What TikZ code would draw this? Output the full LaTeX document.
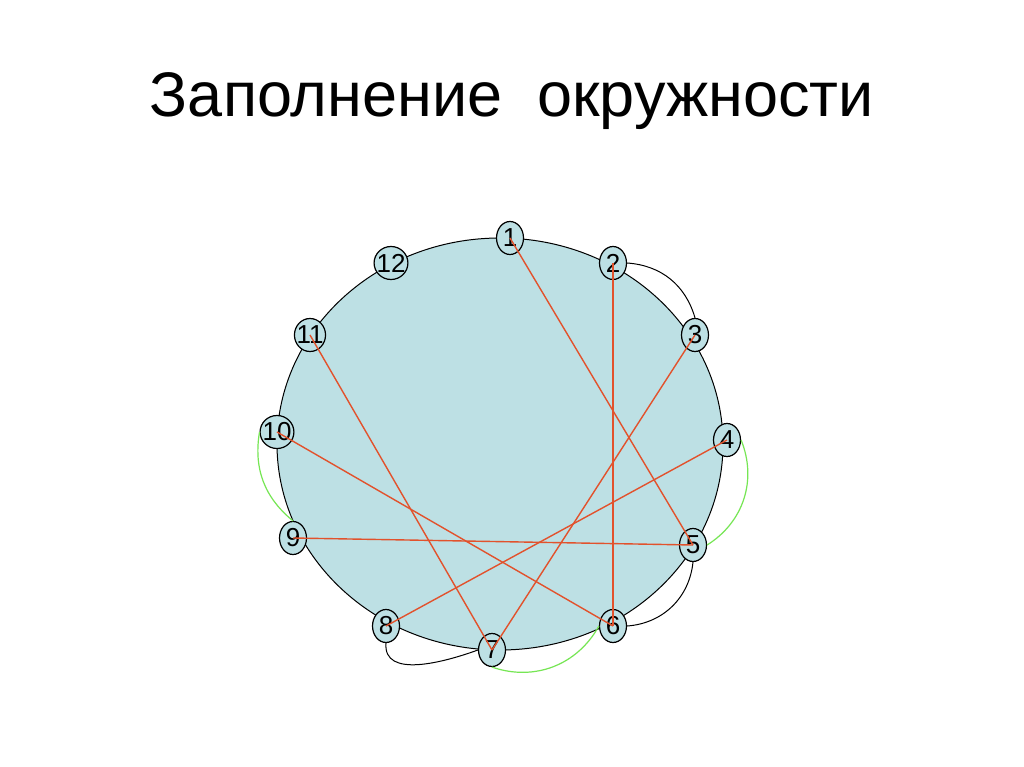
\documentclass[tikz,border=0pt]{standalone}
\usepackage{fontspec}
\setmainfont{Liberation Sans}
\usepackage{xcolor}
\usetikzlibrary{shapes.geometric}
\definecolor{disk}{RGB}{189,224,228}
\definecolor{chord}{RGB}{226,82,44}
\definecolor{lgreen}{RGB}{118,230,84}

\begin{document}
\begin{tikzpicture}[x=1pt,y=-1pt,
  pt/.style={ellipse,draw,line width=1.2pt,fill=disk,minimum width=27pt,minimum height=33pt,inner xsep=-2.5pt,inner ysep=0pt,font=\fontsize{26}{26}\selectfont},
  chd/.style={draw=chord,line width=1.4pt},
  blk/.style={draw=black,line width=1pt},
  grn/.style={draw=lgreen,line width=1.2pt}]
\path[use as bounding box,fill=white] (0,0) rectangle (1024,767);
\node[anchor=base,font=\fontsize{63}{65}\selectfont] (title) at (512,117) {Заполнение\ \ окружности};

\draw[black,line width=1pt,fill=disk] (500,444) ellipse [x radius=223,y radius=206];

\node[pt] (n1) at (510,238) {1};
\node[pt] (n2) at (613,263) {2};
\node[pt] (n3) at (695,335) {3};
\node[pt] (n4) at (727,440) {4};
\node[pt] (n5) at (693,545) {5};
\node[pt] (n6) at (613,626) {6};
\node[pt] (n7) at (492,650) {7};
\node[pt] (n8) at (386,626) {8};
\node[pt] (n9) at (293,538) {9};
\node[pt] (n10) at (277,432) {10};
\node[pt] (n11) at (310,335) {11};
\node[pt] (n12) at (391,263) {12};

\path[chd] (n1.center) edge (n5.center);
\path[chd] (n2.center) edge (n6.center);
\path[chd] (n3.center) edge (n7.center);
\path[chd] (n4.center) edge (n8.center);
\path[chd] (n5.center) edge (n9.center);
\path[chd] (n6.center) edge (n10.center);
\path[chd] (n7.center) edge (n11.center);

\path[blk] (n2.east) edge[bend left=35] (n3.north);
\path[blk] (n5.south) edge[bend left=40] (n6.east);
\path[blk] (n8.south) edge[out=-95,in=200,looseness=1] (n7.west);
\path[grn] (n4.east) edge[bend left=40] (n5.east);
\path[grn] (n6.west) edge[bend left=40] (n7.south);
\path[grn] (n9.north) edge[bend left=30] (n10.west);

\end{tikzpicture}
\end{document}
